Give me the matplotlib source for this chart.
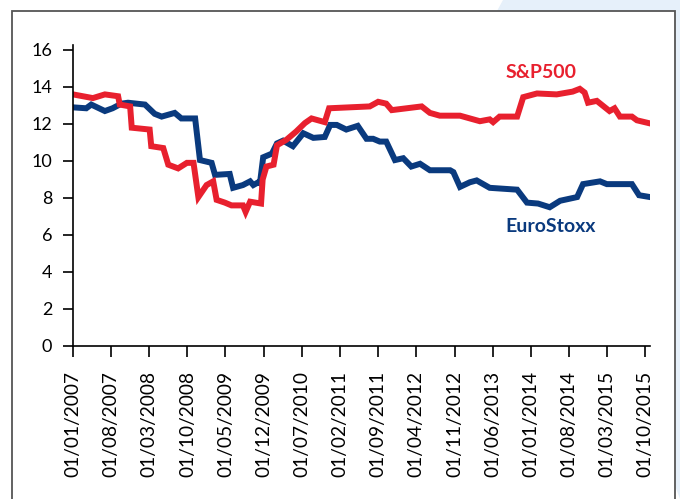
import matplotlib
matplotlib.use("Agg")
import matplotlib.pyplot as plt
import matplotlib.dates as mdates
from matplotlib.patches import Rectangle, Polygon
import pandas as pd

# EuroStoxx
euro_dates = [
    "2007-01-01", "2007-03-16", "2007-04-13", "2007-06-28", "2007-08-10", "2007-09-28",
    "2007-11-04", "2008-02-07", "2008-04-01", "2008-05-10", "2008-07-22", "2008-08-28",
    "2008-11-13", "2008-12-10", "2009-02-13", "2009-03-04", "2009-05-25", "2009-06-13",
    "2009-08-07", "2009-09-16", "2009-10-04", "2009-11-01", "2009-11-10", "2009-11-28",
    "2010-01-16", "2010-02-13", "2010-03-19", "2010-05-13", "2010-07-10", "2010-09-04",
    "2010-11-07", "2010-12-07", "2011-01-13", "2011-03-07", "2011-05-10", "2011-06-28",
    "2011-08-04", "2011-09-10", "2011-10-16", "2011-12-04", "2012-01-19", "2012-03-04",
    "2012-04-22", "2012-06-16", "2012-10-07", "2012-10-25", "2012-12-01", "2013-01-25",
    "2013-03-04", "2013-05-16", "2013-10-16", "2013-12-10", "2014-02-10", "2014-04-16",
    "2014-06-13", "2014-09-16", "2014-10-19", "2015-01-22", "2015-03-01", "2015-07-19",
    "2015-08-28", "2015-10-28",
]
euro_values = [
    12.9, 12.85, 13.05, 12.7, 12.85, 13.1,
    13.15, 13.05, 12.55, 12.4, 12.6, 12.3,
    12.3, 10.05, 9.9, 9.25, 9.3, 8.55,
    8.7, 8.9, 8.7, 8.85, 8.8, 10.2,
    10.4, 10.95, 11.1, 10.8, 11.5, 11.25,
    11.3, 11.95, 11.95, 11.7, 11.9, 11.2,
    11.2, 11.05, 11.05, 10.05, 10.15, 9.7,
    9.85, 9.5, 9.5, 9.4, 8.6, 8.85,
    8.95, 8.55, 8.45, 7.75, 7.7, 7.5,
    7.85, 8.05, 8.75, 8.9, 8.75, 8.75,
    8.15, 8.05,
]

# S&P500
sp_dates = [
    "2007-01-01", "2007-04-22", "2007-06-28", "2007-09-10", "2007-09-19", "2007-11-16",
    "2007-11-25", "2008-03-04", "2008-03-13", "2008-05-19", "2008-06-16", "2008-08-10",
    "2008-09-28", "2008-11-04", "2008-12-01", "2009-01-16", "2009-02-22", "2009-03-13",
    "2009-04-28", "2009-06-04", "2009-08-07", "2009-08-22", "2009-09-16", "2009-11-16",
    "2009-11-25", "2009-12-16", "2010-01-25", "2010-02-13", "2010-04-07", "2010-06-01",
    "2010-07-19", "2010-08-25", "2010-11-07", "2010-12-01", "2011-07-16", "2011-09-01",
    "2011-10-16", "2011-11-16", "2012-05-01", "2012-06-16", "2012-08-10", "2012-12-01",
    "2013-03-22", "2013-05-16", "2013-06-04", "2013-07-10", "2013-10-16", "2013-11-19",
    "2014-02-04", "2014-05-25", "2014-08-22", "2014-10-01", "2014-10-28", "2014-11-16",
    "2015-01-04", "2015-03-16", "2015-04-13", "2015-05-13", "2015-07-19", "2015-08-16",
    "2015-10-20",
]
sp_values = [
    13.6, 13.4, 13.6, 13.5, 13.05, 12.95,
    11.8, 11.7, 10.8, 10.7, 9.8, 9.6,
    9.9, 9.9, 8.05, 8.7, 8.9, 7.9,
    7.75, 7.6, 7.6, 7.25, 7.8, 7.7,
    9.0, 9.7, 9.8, 10.85, 11.15, 11.6,
    12.05, 12.3, 12.1, 12.85, 12.95, 13.2,
    13.1, 12.75, 12.95, 12.6, 12.45, 12.45,
    12.15, 12.25, 12.1, 12.4, 12.4, 13.45,
    13.65, 13.6, 13.75, 13.9, 13.7, 13.15,
    13.25, 12.7, 12.85, 12.4, 12.4, 12.2,
    12.05,
]

tick_dates = pd.date_range("2007-01-01", "2015-10-01", freq="7MS")
y_ticks = [0, 2, 4, 6, 8, 10, 12, 14, 16]

red = "#e8202e"
blue = "#0a3a7e"

plt.rcParams["font.family"] = ["Lato", "DejaVu Sans"]

fig = plt.figure(figsize=(6.8, 4.99), dpi=100)

# decorative background bits, kept behind the axes
fig.patches.append(Polygon([(497 / 680, 1 - 11 / 499), (503 / 680, 1), (1, 1), (1, 0)],
                           closed=True, transform=fig.transFigure,
                           facecolor="#e6f0fa", edgecolor="none", zorder=-3))
fig.patches.append(Rectangle((12 / 680, -0.05), 663 / 680, 1.05 - 11 / 499,
                             transform=fig.transFigure, facecolor="white",
                             edgecolor="#555555", linewidth=1.3, zorder=-2))

ax = fig.add_axes([73 / 680, 1 - 346 / 499, (650 - 73) / 680, (346 - 45) / 499])
ax.set_facecolor("none")

ax.plot(pd.to_datetime(euro_dates), euro_values, color=blue, linewidth=4.3,
        solid_joinstyle="miter")
ax.plot(pd.to_datetime(sp_dates), sp_values, color=red, linewidth=4.3,
        solid_joinstyle="miter")

ax.set_ylim(0, 16.27)
ax.set_xlim(pd.Timestamp("2007-01-01"), pd.Timestamp("2015-10-28"))
ax.set_yticks(y_ticks)
ax.set_xticks(tick_dates)
ax.xaxis.set_major_formatter(mdates.DateFormatter("%d/%m/%Y"))

for s in ["top", "right"]:
    ax.spines[s].set_visible(False)
for s in ["left", "bottom"]:
    ax.spines[s].set_linewidth(1.2)
    ax.spines[s].set_color("black")

ax.tick_params(axis="y", direction="out", length=7, width=1.2, pad=8, labelsize=13)
ax.tick_params(axis="x", direction="out", length=8, width=1.2, pad=10, labelsize=13.8,
               rotation=90)

ax.text(pd.Timestamp("2013-08-10"), 14.8, "S&P500", color=red, fontsize=14,
        fontweight="bold", va="center", ha="left")
ax.text(pd.Timestamp("2013-08-10"), 6.45, "EuroStoxx", color=blue, fontsize=14,
        fontweight="bold", va="center", ha="left")

fig.savefig("out.png", dpi=100)
